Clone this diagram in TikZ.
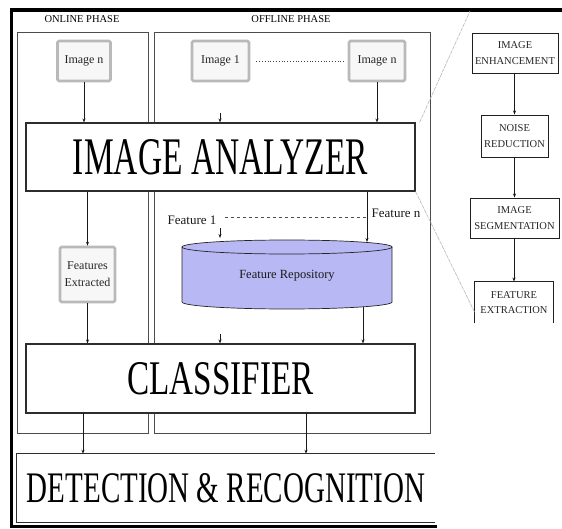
\documentclass[tikz,border=0pt]{standalone}
\usepackage{fontspec}
\setmainfont{Liberation Serif}
\usetikzlibrary{arrows.meta}
\begin{document}
\begin{tikzpicture}[x=1pt,y=-1pt,
  frameline/.style={line width=3.5pt,black},
  phasebox/.style={draw=gray!60!black,line width=0.9pt},
  phaselabel/.style={font=\fontsize{10.5}{12}\selectfont,text=black},
  imgbox/.style={rectangle,draw=gray!55,line width=2.6pt,fill=gray!6,rounded corners=1.5pt,
    inner sep=0pt,font=\fontsize{12}{14}\selectfont,align=center,text=black!85},
  bigbox/.style={rectangle,draw=gray!35!black,line width=1.1pt,fill=white,inner sep=0pt},
  stepbox/.style={rectangle,draw=gray!25!black,line width=0.9pt,fill=white,inner sep=0pt,
    align=center,font=\fontsize{10.5}{15.5}\selectfont,text=black!85},
  lbl/.style={font=\fontsize{13}{15}\selectfont,text=black!90,inner sep=0pt},
  arr/.style={-{Stealth[length=4pt,width=3pt]},draw=gray!20!black,line width=0.7pt},
  zoomline/.style={draw=gray!55,line width=0.6pt,dash pattern=on 4pt off 1pt}]
\useasboundingbox (0,0) rectangle (562,529);
\fill[white] (0,0) rectangle (562,529);

% outer frame
\draw[frameline] (11.5,10) -- (562,10);
\draw[frameline] (11.5,8.5) -- (11.5,527);
\draw[line width=2.5pt] (10,526.5) -- (437,526.5);

% phase boxes
\draw[phasebox] (17,32) rectangle (148,433);
\draw[phasebox] (154,32) rectangle (430,433);
\node[phaselabel] (onl) at (82,19) {ONLINE PHASE};
\node[phaselabel] (offl) at (291,19) {OFFLINE PHASE};

% image boxes
\node[imgbox,minimum width=53pt,minimum height=40pt] (imgOn) at (84,61) {Image n};
\node[imgbox,minimum width=57pt,minimum height=40pt] (img1) at (220.5,61) {Image 1};
\node[imgbox,minimum width=56pt,minimum height=40pt] (imgN) at (377,61) {Image n};
\draw[dotted,line width=0.8pt,gray!50!black] ([xshift=6pt]img1.east) -- ([xshift=-2pt]imgN.west);

% analyzer
\node[bigbox,minimum width=389pt,minimum height=68pt] (ana) at (220.5,157)
  {\resizebox{295pt}{35pt}{IMAGE ANALYZER}};

\draw[arr] (imgOn.south) -- (imgOn.south |- ana.north);
\draw[arr] (imgN.south) -- (imgN.south |- ana.north);
\coordinate (s1) at (220,113);
\draw[arr] (s1) -- (s1 |- ana.north);

% online: features extracted
\node[imgbox,minimum width=55pt,minimum height=55pt,font=\fontsize{12}{17}\selectfont] (fe) at (87.5,274.5) {Features\\Extracted};
\draw[arr] (ana.south -| fe.north) -- (fe.north);

% offline: features and repository
\node[lbl] (f1) at (192,220) {Feature 1};
\node[lbl] (fn) at (396,213) {Feature n};
\draw[dashed,gray!60!black,line width=0.6pt] ([xshift=8pt,yshift=3pt]f1.east) -- ([xshift=-3pt,yshift=-4pt]fn.west);

\fill[fill={rgb,255:red,184;green,184;blue,244}] (182,247) -- (182,302) arc[start angle=180,end angle=0,x radius=105,y radius=7] -- (392,247) arc[start angle=0,end angle=-180,x radius=105,y radius=7] -- cycle;
\draw[gray!30!black,line width=0.7pt] (182,247) -- (182,302) arc[start angle=180,end angle=0,x radius=105,y radius=7] -- (392,247);
\draw[gray!30!black,line width=0.7pt] (287,247) ellipse[x radius=105,y radius=7];
\node[lbl,font=\fontsize{12.5}{14}\selectfont] (repo) at (287,276) {Feature Repository};
\coordinate (ctR) at (367,242);
\coordinate (cbR) at (363,307);
\coordinate (s2) at (220,228);
\draw[arr] (ana.south -| ctR) -- (ctR);
\draw[arr] (s2) -- (220,238);

% classifier
\node[bigbox,minimum width=389pt,minimum height=69pt] (cls) at (220.5,378.5)
  {\resizebox{186pt}{32pt}{CLASSIFIER}};
\draw[arr] (fe.south) -- (fe.south |- cls.north);
\draw[arr] (cbR) -- (cbR |- cls.north);
\coordinate (s3) at (220,334);
\draw[arr] (s3) -- (s3 |- cls.north);

% detection
\node[inner sep=0pt,minimum width=418pt,minimum height=68pt] (det) at (226,488)
  {\resizebox{398pt}{29pt}{DETECTION \& RECOGNITION}};
\draw[gray!35!black,line width=1.1pt] (det.north east) -- (det.north west) -- (det.south west) -- (det.south east);
\coordinate (d1) at (83,413);
\coordinate (d2) at (306,413);
\draw[arr] (d1) -- (d1 |- det.north);
\draw[arr] (d2) -- (d2 |- det.north);

% right column
\node[stepbox,minimum width=86pt,minimum height=40pt] (enh) at (515,53) {IMAGE\\ENHANCEMENT};
\node[stepbox,minimum width=67pt,minimum height=42pt] (noi) at (514.5,136) {NOISE\\REDUCTION};
\node[stepbox,minimum width=89pt,minimum height=40pt] (seg) at (514.5,218) {IMAGE\\SEGMENTATION};
\node[stepbox,draw=none,minimum width=78pt,minimum height=41pt] (fx) at (514,302.5) {FEATURE\\EXTRACTION};
\draw[gray!25!black,line width=0.9pt] (fx.south west) -- (fx.north west) -- (fx.north east) -- (fx.south east);
\draw[arr] (enh.south -| noi.north) -- (noi.north);
\draw[arr] (noi.south) -- (noi.south |- seg.north);
\draw[arr] (seg.south -| fx.north) -- (fx.north);

% zoom lines
\coordinate (zt) at (470,11);
\coordinate (zb) at (475,313);
\draw[zoomline] ([xshift=4pt]ana.north east) -- (zt);
\draw[zoomline] (ana.south east) -- (zb);
\end{tikzpicture}
\end{document}
